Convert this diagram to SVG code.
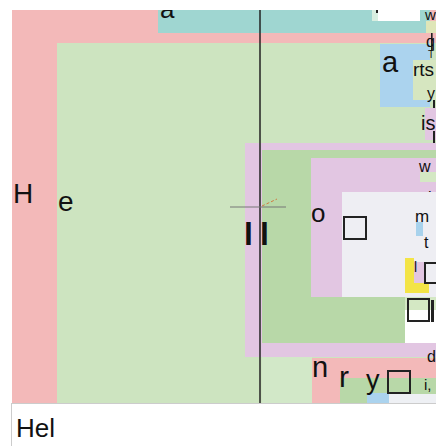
<svg xmlns="http://www.w3.org/2000/svg" width="436" height="446" viewBox="0 0 436 446">
<defs>
<clipPath id="view"><rect x="12" y="10" width="424" height="393"/></clipPath>
<style>
.t{font-family:"Liberation Sans",Arial,sans-serif;fill:#111}
.sq{fill:none;stroke:#222;stroke-width:2}
.pink{fill:#f3b9b9}.teal{fill:#9fd6d1}.green{fill:#cde4c0}.blue{fill:#abd3ee}
.lav{fill:#e2c6e2}.dgreen{fill:#b8d8a8}.gray{fill:#eeeef3}.yel{fill:#f3e446}
</style>
</defs>
<rect width="436" height="446" fill="#ffffff"/>
<g clip-path="url(#view)">
  <g id="outer">
    <rect class="pink" x="12" y="10" width="424" height="393"/>
    <text class="t" x="13" y="203" font-size="28">H</text>
  </g>
  <g id="top-bar">
    <rect class="teal" x="158" y="10" width="272" height="23"/>
    <text class="t" x="160" y="18" font-size="26">a</text>
    <rect x="372" y="10" width="48" height="11" fill="#ffffff"/>
    <rect x="372" y="10" width="6" height="11" fill="#d8eee0"/>
    <rect x="376" y="10" width="2" height="3" fill="#222"/>
    <rect x="426" y="21" width="10" height="12" fill="#dfe6b8"/>
    <text class="t" x="425" y="20" font-size="15">w</text>
  </g>
  <g id="main">
    <rect class="green" x="57" y="43" width="379" height="360"/>
    <text class="t" x="58" y="211" font-size="28">e</text>
  </g>
  <g id="blue-box">
    <rect class="blue" x="380" y="44" width="50" height="63"/>
    <rect x="413" y="60" width="23" height="40" fill="#d6e6c0"/>
    <text class="t" x="382" y="72" font-size="29">a</text>
    <rect x="431" y="33" width="1.6" height="18" fill="#222"/>
    <text class="t" x="426" y="47" font-size="16">q</text>
    <text class="t" x="428" y="58" font-size="10">T</text>
    <text class="t" x="413" y="76" font-size="19">rts</text>
    <text class="t" x="427" y="99" font-size="16">y</text>
    <rect x="433" y="100" width="2" height="15" fill="#222"/>
    <rect x="425" y="108" width="11" height="32" fill="#e2c6e2"/>
    <text class="t" x="421" y="130" font-size="20">is</text>
    <rect x="433" y="131" width="2" height="14" fill="#222"/>
  </g>
  <g id="panel">
    <rect class="lav" x="245" y="143" width="191" height="214"/>
    <rect class="dgreen" x="262" y="150" width="174" height="193"/>
    <text class="t" x="244" y="245" font-size="32" font-weight="bold">l</text>
    <text class="t" x="260" y="245" font-size="32" font-weight="bold">l</text>
  </g>
  <g id="inner">
    <rect class="lav" x="311" y="158" width="125" height="139"/>
    <rect x="420" y="172" width="16" height="10" fill="#d4e8c4"/>
    <text class="t" x="419" y="172" font-size="16">w</text>
    <text class="t" x="428" y="203" font-size="16">h</text>
    <text class="t" x="311" y="222" font-size="26">o</text>
  </g>
  <g id="card">
    <rect class="gray" x="342" y="192" width="94" height="105"/>
    <rect class="sq" x="344" y="217" width="22" height="22"/>
    <rect x="416" y="222" width="7" height="14" fill="#a8d2ec"/>
    <text class="t" x="415" y="222" font-size="17" fill="#2a5a8a">m</text>
    <text class="t" x="424" y="248" font-size="16">t</text>
    <rect class="yel" x="405" y="258" width="9" height="35"/>
    <rect class="yel" x="405" y="283" width="24" height="10"/>
    <rect class="lav" x="414" y="262" width="10" height="21"/>
    <text class="t" x="414" y="272" font-size="14">l</text>
    <rect class="sq" x="425" y="263" width="14" height="20"/>
  </g>
  <g id="lower-right">
    <rect x="405" y="297" width="31" height="46" fill="#ffffff"/>
    <rect x="405" y="297" width="31" height="13" fill="#d4e8c4"/>
    <rect class="sq" x="408" y="299" width="21" height="22"/>
    <rect x="431" y="300" width="3" height="22" fill="#222"/>
  </g>
  <g id="bottom">
    <rect class="pink" x="312" y="358" width="124" height="45"/>
    <rect x="262" y="357" width="50" height="46" fill="#d2e8c8"/>
    <rect class="dgreen" x="340" y="378" width="96" height="25"/>
    <rect class="blue" x="367" y="393" width="22" height="10"/>
    <rect x="389" y="394" width="47" height="9" fill="#eef0f4"/>
    <text class="t" x="312" y="377" font-size="29">n</text>
    <text class="t" x="339" y="387" font-size="30">r</text>
    <text class="t" x="366" y="389" font-size="27">y</text>
    <rect class="sq" x="388" y="371" width="22" height="22"/>
    <text class="t" x="427" y="362" font-size="16">d</text>
    <text class="t" x="424" y="390" font-size="15">i,</text>
  </g>
  <g id="connectors">
    <line x1="260" y1="10" x2="260" y2="403" stroke="#222" stroke-width="1.5"/>
    <line x1="230" y1="207" x2="286" y2="207" stroke="#777" stroke-width="1"/>
    <line x1="262" y1="206" x2="277" y2="199" stroke="#d07a40" stroke-width="1" stroke-dasharray="3,2"/>
  </g>
</g>
<g id="input">
  <rect x="11" y="403" width="425" height="43" fill="#ffffff"/>
  <line x1="11" y1="403.5" x2="436" y2="403.5" stroke="#cccccc" stroke-width="1"/>
  <line x1="11.5" y1="403" x2="11.5" y2="446" stroke="#cccccc" stroke-width="1"/>
  <text class="t" x="16" y="437" font-size="26" fill="#222">Hel</text>
</g>
</svg>
